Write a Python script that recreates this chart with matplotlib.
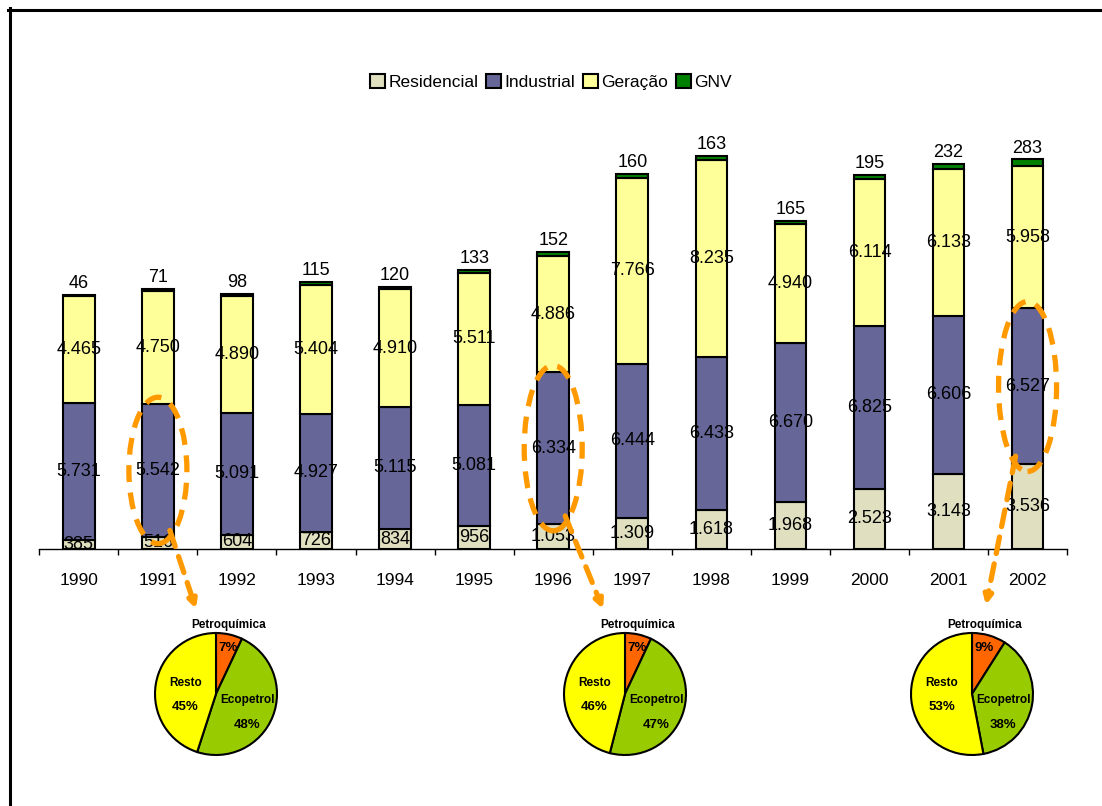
import numpy as np
import matplotlib
matplotlib.use('Agg')
import matplotlib.pyplot as plt
from matplotlib.patches import Ellipse
from matplotlib.lines import Line2D

plt.rcParams['font.family'] = ['Liberation Sans', 'DejaVu Sans']

# consumo de gás natural por setor
years = ['1990', '1991', '1992', '1993', '1994', '1995', '1996',
         '1997', '1998', '1999', '2000', '2001', '2002']
residencial = [385, 516, 604, 726, 834, 956, 1053, 1309, 1618, 1968, 2523, 3143, 3536]
industrial = [5731, 5542, 5091, 4927, 5115, 5081, 6334, 6444, 6433, 6670, 6825, 6606, 6527]
geracao = [4465, 4750, 4890, 5404, 4910, 5511, 4886, 7766, 8235, 4940, 6114, 6133, 5958]
gnv = [46, 71, 98, 115, 120, 133, 152, 160, 163, 165, 195, 232, 283]

series = ['Residencial', 'Industrial', 'Geração', 'GNV']
colors = ['#E0E0C0', '#666699', '#FFFF99', '#008000']

# participação do consumo industrial nos anos destacados
pie_years = ['1991', '1996', '2002']
petroquimica = [7, 7, 9]
ecopetrol = [48, 47, 38]
resto = [45, 46, 53]
pie_colors = ['#FF6600', '#99CC00', '#FFFF00']

W, H = 1102, 806
ORANGE = '#FF9900'


def fmt(v):
    return f'{v:,}'.replace(',', '.')


fig = plt.figure(figsize=(W / 100, H / 100), dpi=100)

# --- stacked bars -----------------------------------------------------------
ax = fig.add_axes([39.3 / W, 257 / H, 1027.8 / W, 478 / H])
x = np.arange(len(years))
bottom = np.zeros(len(years))
for name, vals, col in zip(series, [residencial, industrial, geracao, gnv], colors):
    vals = np.array(vals, dtype=float)
    ax.bar(x, vals, 0.4, bottom=bottom, color=col, edgecolor='black',
           linewidth=1.5, label=name, zorder=2)
    for xi, b, v in zip(x, bottom, vals):
        if name == 'GNV':
            ax.annotate(fmt(int(v)), (xi, b + v), xytext=(0, 2), textcoords='offset points',
                        ha='center', va='bottom', fontsize=13, zorder=3)
        else:
            ax.text(xi, b + v / 2, fmt(int(v)), ha='center', va='center',
                    fontsize=13, zorder=3)
    bottom += vals

ax.set_xlim(-0.5, len(years) - 0.5)
ax.set_ylim(0, 20000)
ax.set_xticks(x)
ax.set_xticklabels(years, fontsize=12.5)
ax.set_xticks(np.arange(-0.5, len(years)), minor=True)
ax.tick_params(axis='x', which='major', length=0, pad=17)
ax.tick_params(axis='x', which='minor', length=4, width=1, direction='out')
ax.set_yticks([])
for side in ('left', 'right', 'top'):
    ax.spines[side].set_visible(False)
ax.spines['bottom'].set_linewidth(1)
ax.patch.set_visible(False)

fig.legend(loc='center', bbox_to_anchor=(551 / W, 1 - 82 / H), ncol=4, frameon=False,
           fontsize=12.5, handlelength=0.85, handleheight=0.85, handletextpad=0.2,
           columnspacing=0.45, borderaxespad=0)

# --- pies -------------------------------------------------------------------
pie_centers = [(216, 694), (625, 694), (972, 694)]
pie_r = 61
for (cx, cy), p, e, r in zip(pie_centers, petroquimica, ecopetrol, resto):
    pax = fig.add_axes([(cx - pie_r) / W, (H - cy - pie_r) / H, 2 * pie_r / W, 2 * pie_r / H])
    pax.pie([p, e, r], colors=pie_colors, startangle=90, counterclock=False,
            wedgeprops=dict(edgecolor='black', linewidth=1.5))
    pax.set_xlim(-1, 1)
    pax.set_ylim(-1, 1)
    pax.set_aspect('equal')
    kw = dict(ha='center', va='center', fontsize=8.5, fontweight='bold')
    pct = dict(kw, fontsize=9.5)
    pax.text(0.21, 1.13, 'Petroquímica', clip_on=False, **kw)
    pax.text(0.2, 0.75, f'{p}%', **pct)
    pax.text(0.52, -0.1, 'Ecopetrol', **kw)
    pax.text(0.51, -0.51, f'{e}%', **pct)
    pax.text(-0.5, 0.18, 'Resto', **kw)
    pax.text(-0.5, -0.21, f'{r}%', **pct)

# --- overlay: highlight ellipses, connectors and frame ------------------------
ov = fig.add_axes([0, 0, 1, 1], zorder=10)
ov.set_xlim(0, W)
ov.set_ylim(0, H)
ov.axis('off')

arrow_ends = [(196, H - 609), (603, H - 609), (986, H - 605)]
for yr, end in zip(pie_years, arrow_ends):
    i = years.index(yr)
    lo = ax.transData.transform((i, residencial[i]))
    hi = ax.transData.transform((i, residencial[i] + industrial[i]))
    ecx, ecy = lo[0], (lo[1] + hi[1]) / 2
    eh = hi[1] - lo[1] + 14
    ov.add_patch(Ellipse((ecx, ecy), 58, eh, fill=False, edgecolor=ORANGE,
                         linewidth=3.8, linestyle=(0, (3.2, 2))))
    side = 1 if end[0] > ecx else -1
    start = (ecx + side * 12, ecy - 0.82 * eh / 2)
    ov.annotate('', xy=end, xytext=start,
                arrowprops=dict(arrowstyle='-|>', color=ORANGE, lw=3.8,
                                linestyle=(0, (3.2, 2)), mutation_scale=12,
                                shrinkA=0, shrinkB=0))

fig.add_artist(Line2D([8 / W, 1], [1 - 9.5 / H, 1 - 9.5 / H], color='black',
                      linewidth=2.2, transform=fig.transFigure))
fig.add_artist(Line2D([9.5 / W, 9.5 / W], [0, 1 - 8 / H], color='black',
                      linewidth=2.2, transform=fig.transFigure))

fig.savefig('out.png', dpi=100)
